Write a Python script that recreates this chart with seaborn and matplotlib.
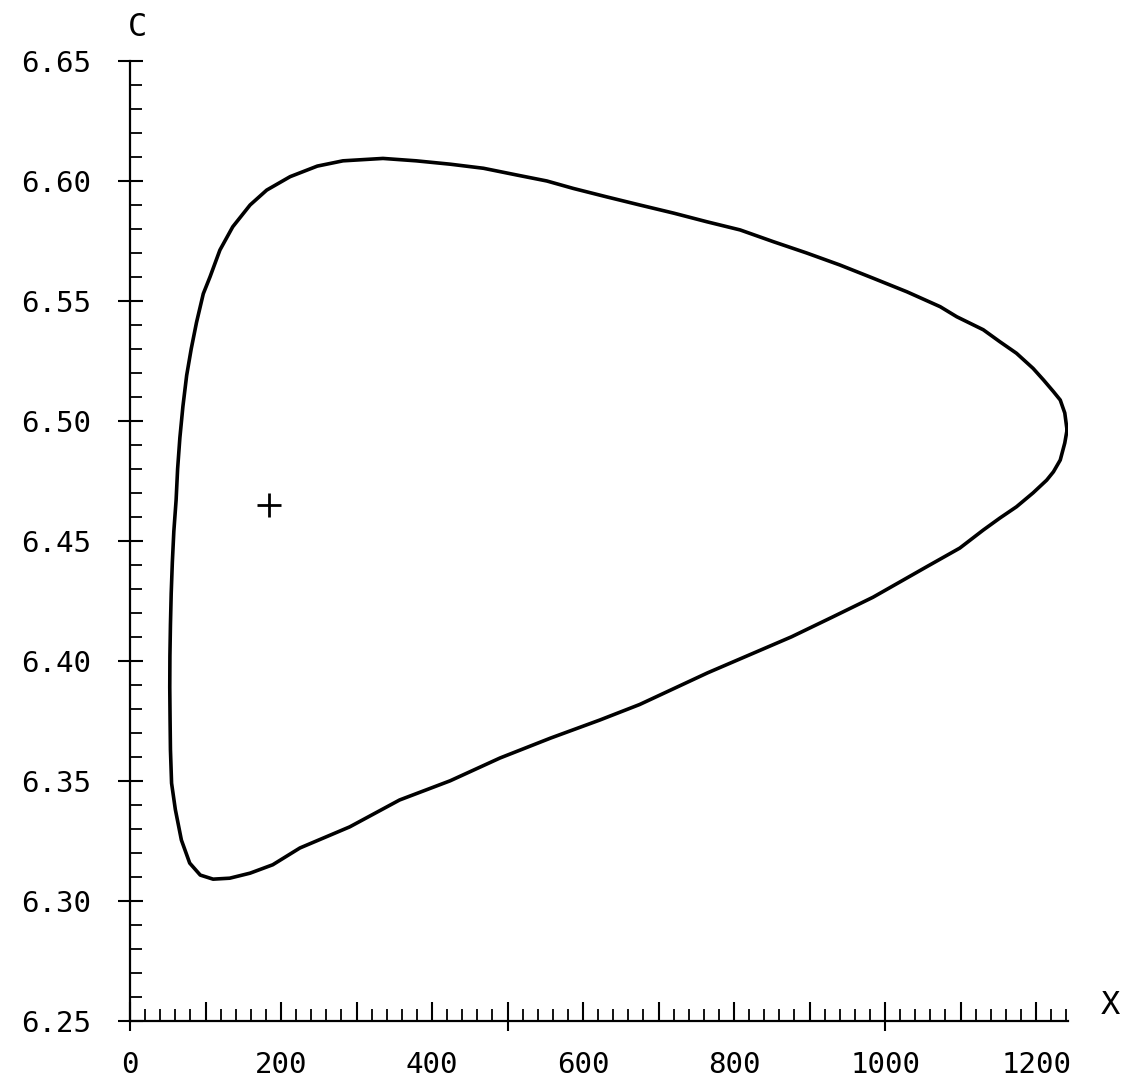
import numpy as np
import pandas as pd
import seaborn as sns
import matplotlib
matplotlib.use("Agg")
import matplotlib.pyplot as plt
from matplotlib.ticker import MultipleLocator, FuncFormatter

# Closed contour (X, C)
curve_x = [1241, 1238, 1232, 1223, 1210, 1196, 1174, 1152, 1130, 1095, 1073,
           1029, 984, 940, 896, 852, 808, 764, 720, 675, 631, 587, 552, 512,
           468, 424, 379, 335, 282, 248, 212, 181, 159, 136, 119, 106, 97, 88,
           81, 75, 70, 66, 63, 61, 58, 56, 54.5, 53.5, 52.8, 52.6, 53, 53.5,
           55, 60, 68, 79, 93, 110, 132, 159, 189, 225, 291, 357, 424, 490,
           557, 622, 675, 765, 876, 930, 984, 1055, 1099, 1130, 1152, 1174,
           1196, 1214, 1223, 1232, 1238, 1241]
curve_c = [6.4962, 6.5033, 6.5087, 6.5122, 6.517, 6.5219, 6.5282, 6.533, 6.538,
           6.5434, 6.5476, 6.5538, 6.5595, 6.565, 6.570, 6.5747, 6.5796, 6.583,
           6.5866, 6.590, 6.5934, 6.5969, 6.600, 6.6025, 6.6053, 6.607, 6.6084,
           6.6094, 6.6084, 6.6062, 6.6018, 6.5962, 6.590, 6.5809, 6.5712,
           6.5601, 6.553, 6.541, 6.530, 6.519, 6.506, 6.493, 6.480, 6.467,
           6.454, 6.441, 6.428, 6.415, 6.402, 6.389, 6.376, 6.363, 6.349,
           6.338, 6.3253, 6.3157, 6.3107, 6.309, 6.3094, 6.3115, 6.315, 6.322,
           6.3308, 6.342, 6.350, 6.3595, 6.3678, 6.3753, 6.3818, 6.3950, 6.410,
           6.4182, 6.4265, 6.4392, 6.447, 6.4545, 6.4595, 6.4642, 6.470,
           6.4753, 6.4788, 6.4837, 6.4908, 6.4962]

# Marked point
point_x = [184]
point_c = [6.4649]

df = pd.DataFrame({"X": curve_x, "C": curve_c})

sns.set_theme(style="ticks")
plt.rcParams['font.family'] = ['DejaVu Sans Mono', 'DejaVu Sans']

fig = plt.figure(figsize=(11.24, 10.8), dpi=100)
ax = fig.add_axes([0.1157, 0.0549, 0.950 - 0.1157, 0.9435 - 0.0549])

sns.lineplot(data=df, x="X", y="C", sort=False, estimator=None,
             color="black", linewidth=2.6, ax=ax,
             solid_joinstyle="round", solid_capstyle="round")
sns.scatterplot(x=point_x, y=point_c, marker="+", s=320, color="black",
                linewidth=2.0, ax=ax)

ax.set_xlim(0, 1242)
ax.set_ylim(6.25, 6.65)
ax.set_xlabel("")
ax.set_ylabel("")
for s in ["top", "right"]:
    ax.spines[s].set_visible(False)
for s in ["left", "bottom"]:
    ax.spines[s].set_linewidth(1.6)
    ax.spines[s].set_color("black")

# y ticks
ax.yaxis.set_major_locator(MultipleLocator(0.05))
ax.yaxis.set_minor_locator(MultipleLocator(0.01))
ax.yaxis.set_major_formatter(FuncFormatter(lambda v, p: f"{v:.2f}"))
ax.tick_params(axis="y", which="major", direction="inout", length=18, width=1.5,
               pad=19, labelsize=21, colors="black")
ax.tick_params(axis="y", which="minor", direction="in", length=8.5, width=1.3,
               colors="black")

# x ticks
ax.xaxis.set_major_locator(MultipleLocator(100))
ax.xaxis.set_minor_locator(MultipleLocator(20))
ax.xaxis.set_major_formatter(FuncFormatter(
    lambda v, p: f"{int(round(v))}" if int(round(v)) % 200 == 0 else ""))
ax.tick_params(axis="x", which="major", direction="in", length=14, width=1.5,
               pad=22, labelsize=21, colors="black")
ax.tick_params(axis="x", which="minor", direction="in", length=8.5, width=1.3,
               colors="black")

sec = ax.secondary_xaxis("bottom")
sec.set_xticks([0, 500, 1000])
sec.tick_params(direction="out", length=7, width=1.5, labelbottom=False,
                colors="black")
sec.spines["bottom"].set_visible(False)

fig.text(138 / 1124, 1 - 27 / 1080, "C", ha="center", va="center", fontsize=23,
         color="black")
fig.text(1110 / 1124, 1 - 1005 / 1080, "X", ha="center", va="center",
         fontsize=23, color="black")

fig.savefig("out.png", dpi=100, facecolor="white")
